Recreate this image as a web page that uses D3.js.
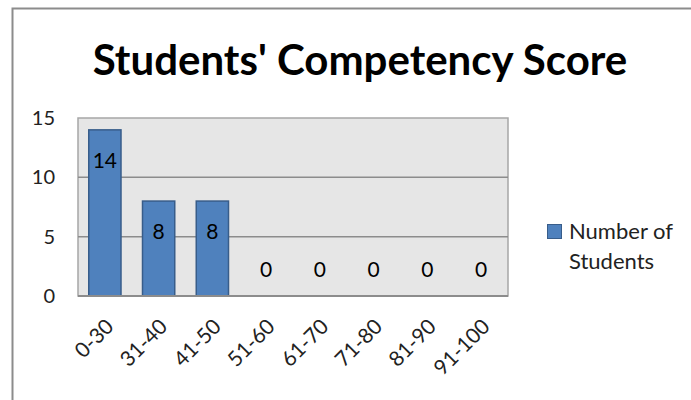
<!DOCTYPE html>
<html><head><meta charset="utf-8">
<script src="https://cdn.jsdelivr.net/npm/d3@7"></script>
<style>body{margin:0;background:#fff}svg{display:block}</style>
</head><body>
<svg id="c" width="691" height="400"></svg>
<script>
const title = "Students' Competency Score";
const categories = ["0-30","31-40","41-50","51-60","61-70","71-80","81-90","91-100"];
const values = [14, 8, 8, 0, 0, 0, 0, 0];
const yTicks = [0, 5, 10, 15];
const seriesName = ["Number of", "Students"];

const font = "Lato, 'Open Sans', sans-serif";
const svg = d3.select("#c");
// outer frame
svg.append("rect").attr("x",12.5).attr("y",8.5).attr("width",700).attr("height",420)
  .attr("fill","#fff").attr("stroke","#8c8c8c").attr("stroke-width",2);

const m = {l:78, t:118, r:508, b:296};
const x = d3.scaleBand().domain(categories).range([m.l, m.r]).paddingInner(0.4).paddingOuter(0.2);
const y = d3.scaleLinear().domain([0,15]).range([m.b, m.t]);

svg.append("rect").attr("x",m.l).attr("y",m.t).attr("width",m.r-m.l).attr("height",m.b-m.t)
  .attr("fill","#e6e6e6").attr("stroke","#a6a6a6").attr("stroke-width",1.5);

// gridlines
svg.append("g").selectAll("line").data(yTicks.filter(d=>d>0 && d<15)).join("line")
  .attr("x1",m.l).attr("x2",m.r).attr("y1",d=>y(d)).attr("y2",d=>y(d))
  .attr("stroke","#8c8c8c").attr("stroke-width",1.5);

// y axis
const ya = svg.append("g").attr("transform",`translate(${m.l},0)`)
  .call(d3.axisLeft(y).tickValues(yTicks).tickSize(0).tickPadding(23));
ya.select(".domain").remove();
ya.selectAll("text").attr("font-family",font).attr("font-size",20).attr("fill","#222");

// bars
svg.append("g").selectAll("rect").data(values).join("rect")
  .attr("x",(d,i)=>x(categories[i])).attr("width",x.bandwidth())
  .attr("y",d=>y(d)).attr("height",d=>y(0)-y(d))
  .attr("fill","#4f81bd").attr("stroke","#385d8a").attr("stroke-width",1.5);

// baseline
svg.append("line").attr("x1",m.l).attr("x2",m.r).attr("y1",y(0)).attr("y2",y(0))
  .attr("stroke","#8c8c8c").attr("stroke-width",2);

// data labels
svg.append("g").selectAll("text").data(values).join("text")
  .attr("x",(d,i)=>x(categories[i])+x.bandwidth()/2)
  .attr("y",d=> d>0 ? y(d)+31 : y(0)-26)
  .attr("dy","0.35em").attr("text-anchor","middle")
  .attr("font-family",font).attr("font-size",21).attr("fill","#000")
  .text(d=>d);

// x axis labels
const xa = svg.append("g").attr("transform",`translate(0,${m.b})`)
  .call(d3.axisBottom(x).tickSize(0).tickPadding(0));
xa.select(".domain").remove();
xa.selectAll("text").attr("font-family",font).attr("font-size",21).attr("fill","#222")
  .attr("text-anchor","end").attr("dy",0).attr("y",0)
  .attr("transform","translate(10,32) rotate(-45)");

// title
svg.append("text").attr("x",360).attr("y",75).attr("text-anchor","middle")
  .attr("font-family",font).attr("font-weight","bold").attr("font-size",42).attr("fill","#000")
  .text(title);

// legend
svg.append("rect").attr("x",547.5).attr("y",224.5).attr("width",14).attr("height",14)
  .attr("fill","#4f81bd").attr("stroke","#385d8a").attr("stroke-width",1);
svg.append("text").attr("font-family",font).attr("font-size",22).attr("fill","#222")
  .selectAll("tspan").data(seriesName).join("tspan")
  .attr("x",569).attr("y",(d,i)=>239+i*30).text(d=>d);
</script>
</body></html>
